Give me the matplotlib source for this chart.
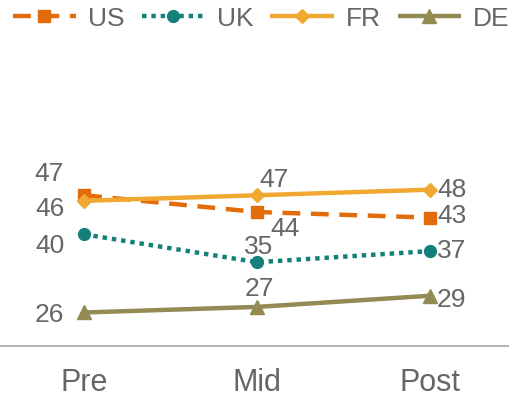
import matplotlib.pyplot as plt

plt.rcParams['font.family'] = ['Liberation Sans', 'DejaVu Sans']

phases = ['Pre', 'Mid', 'Post']
us = [47, 44, 43]
uk = [40, 35, 37]
fr = [46, 47, 48]
de = [26, 27, 29]

# label offsets in pixels for each point (Pre, Mid, Post)
offsets = {
    'US': [(-20, 21, 'right'), (28, -17, 'center'), (7, 2, 'left')],
    'UK': [(-20, -12, 'right'), (2, 15, 'center'), (7, 0, 'left')],
    'FR': [(-20, -8, 'right'), (17, 15, 'center'), (7, 0, 'left')],
    'DE': [(-20, -3, 'right'), (2, 18, 'center'), (7, -4, 'left')],
}

styles = {
    'US': dict(color='#E36C0A', ls=(0, (4, 2.4)), marker='s', ms=8.5),
    'UK': dict(color='#14807A', ls=(0, (1, 1.1)), marker='o', ms=8.5),
    'FR': dict(color='#F0A830', ls='-', marker='D', ms=7),
    'DE': dict(color='#948A54', ls='-', marker='^', ms=9.5),
}

fig = plt.figure(figsize=(5.1, 3.98), dpi=100)
ax = fig.add_axes([0, 0.1307, 1, 0.561])
x = range(len(phases))

for name, vals in [('US', us), ('UK', uk), ('FR', fr), ('DE', de)]:
    st = styles[name]
    ax.plot(x, vals, color=st['color'], linestyle=st['ls'], lw=3.2,
            marker=st['marker'], markersize=st['ms'], label=name,
            dash_capstyle='butt', solid_capstyle='butt')
    for i, v in enumerate(vals):
        dx, dy, ha = offsets[name][i]
        ax.annotate(str(v), (i, v), xytext=(dx, dy), textcoords='offset pixels',
                    ha=ha, va='center', fontsize=19, color='#666666')

ax.set_xlim(-0.487, 2.463)
ax.set_ylim(20, 60)
ax.set_yticks([])
ax.set_xticks(list(x))
ax.set_xticklabels(phases, fontsize=22, color='#666666')
ax.tick_params(axis='x', length=0, pad=16)
for side in ['top', 'right', 'left']:
    ax.spines[side].set_visible(False)
ax.spines['bottom'].set_color('#A6A6A6')
ax.spines['bottom'].set_linewidth(1.2)

fig.legend(loc='center', bbox_to_anchor=(0.512, 0.953), ncol=4, frameon=False,
           fontsize=19, labelcolor='#666666', handlelength=2.4,
           handletextpad=0.45, columnspacing=0.65, borderaxespad=0)

fig.savefig('out.png', dpi=100)
